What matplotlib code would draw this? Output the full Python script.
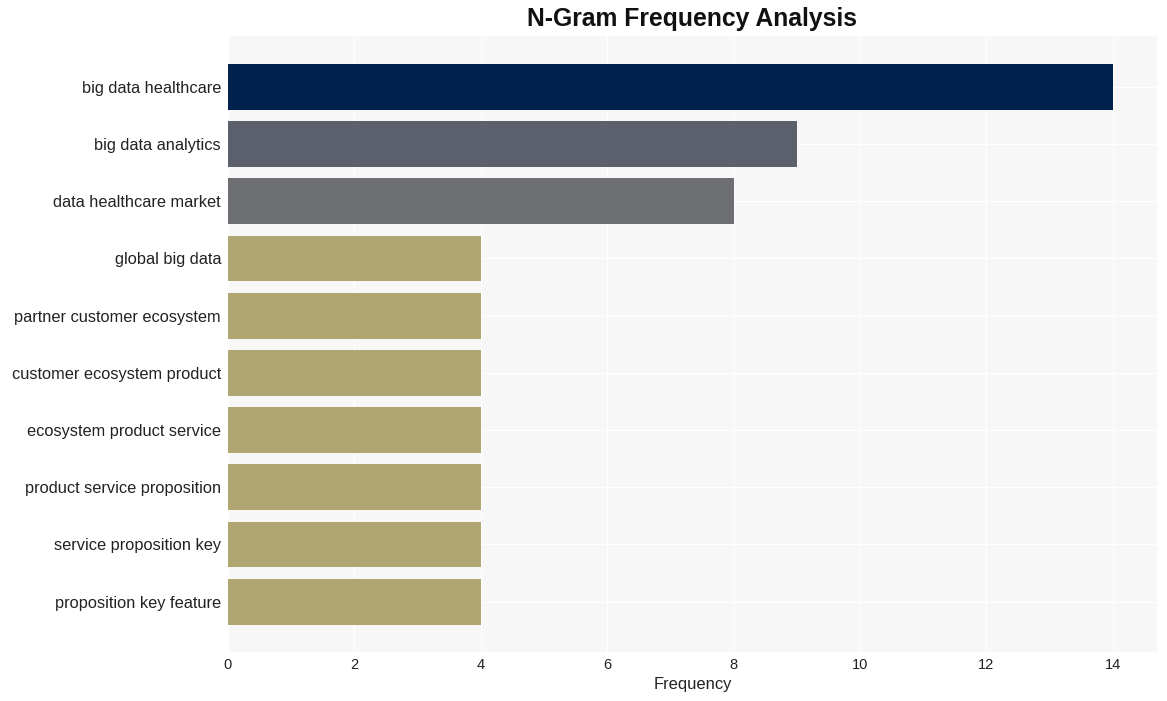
import matplotlib
matplotlib.use("Agg")
import matplotlib.pyplot as plt

labels = ["big data healthcare", "big data analytics", "data healthcare market",
          "global big data", "partner customer ecosystem", "customer ecosystem product",
          "ecosystem product service", "product service proposition",
          "service proposition key", "proposition key feature"]
values = [14, 9, 8, 4, 4, 4, 4, 4, 4, 4]
colors = ["#00214d", "#5c606c", "#6e6f73", "#b0a671", "#b0a671", "#b0a671",
          "#b0a671", "#b0a671", "#b0a671", "#b0a671"]

plt.rcParams['font.family'] = ['Liberation Sans', 'DejaVu Sans']
fig = plt.figure(figsize=(11.67, 7.01), dpi=100)
ax = fig.add_axes([228/1167, 1-652/701, (1157-228)/1167, (652-36)/701])
ax.set_facecolor("#f7f7f7")
y = list(range(len(labels)))
ax.barh(y, values, height=0.8, color=colors, zorder=2)
ax.set_yticks(y)
ax.set_yticklabels(labels, fontsize=11.8, color="#222222")
ax.set_ylim(9.88, -0.89)
ax.set_xlim(0, 14.7)
ax.set_xticks([0, 2, 4, 6, 8, 10, 12, 14])
ax.tick_params(axis='x', labelsize=10.5, colors="#222222", length=0, pad=4)
ax.tick_params(axis='y', length=0, pad=5)
ax.grid(True, color="white", linewidth=0.8, zorder=1)
for s in ax.spines.values():
    s.set_visible(False)
ax.set_xlabel("Frequency", fontsize=11.9, color="#222222", labelpad=4)
fig.text(692/1167, 1-19/701, "N-Gram Frequency Analysis", ha="center", va="center",
         fontsize=17.8, fontweight="bold", color="#111111")
fig.savefig("out.png", dpi=100, facecolor="white")
